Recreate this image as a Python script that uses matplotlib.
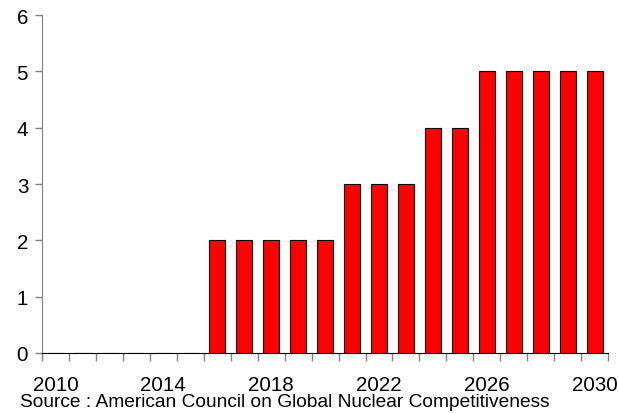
import matplotlib.pyplot as plt
import numpy as np

plt.rcParams['font.family'] = ['Liberation Sans', 'DejaVu Sans']

years = list(range(2010, 2031))
values = [0, 0, 0, 0, 0, 0, 2, 2, 2, 2, 2, 3, 3, 3, 4, 4, 5, 5, 5, 5, 5]
tick_years = [2010, 2014, 2018, 2022, 2026, 2030]

fig = plt.figure(figsize=(6.18, 4.14), dpi=100)
ax = fig.add_axes([0.068, 0.145, 0.916, 0.816])

x = np.arange(len(years))
ax.bar(x, values, width=0.6, color='#ff0000', edgecolor='black', linewidth=0.8, zorder=3)

ax.set_xlim(-0.5, len(years) - 0.5)
ax.set_ylim(0, 6)
ax.set_yticks(range(0, 7))

# category ticks sit on the boundaries, labels in the middle
ax.set_xticks([years.index(y) for y in tick_years])
ax.set_xticklabels([str(y) for y in tick_years])
ax.set_xticks(np.arange(-0.5, len(years)), minor=True)
ax.tick_params(axis='x', which='major', length=0, pad=16, labelsize=14.8)
ax.tick_params(axis='x', which='minor', length=6, color='#808080', width=1)
ax.tick_params(axis='y', length=5, color='#808080', width=1, labelsize=14.8, pad=5)

for s in ['top', 'right']:
    ax.spines[s].set_visible(False)
ax.spines['left'].set_color('#808080')
ax.spines['bottom'].set_color('black')

fig.text(0.032, 0.008, 'Source : American Council on Global Nuclear Competitiveness',
         fontsize=13.8, ha='left', va='bottom')

fig.savefig('out.png', dpi=100)
